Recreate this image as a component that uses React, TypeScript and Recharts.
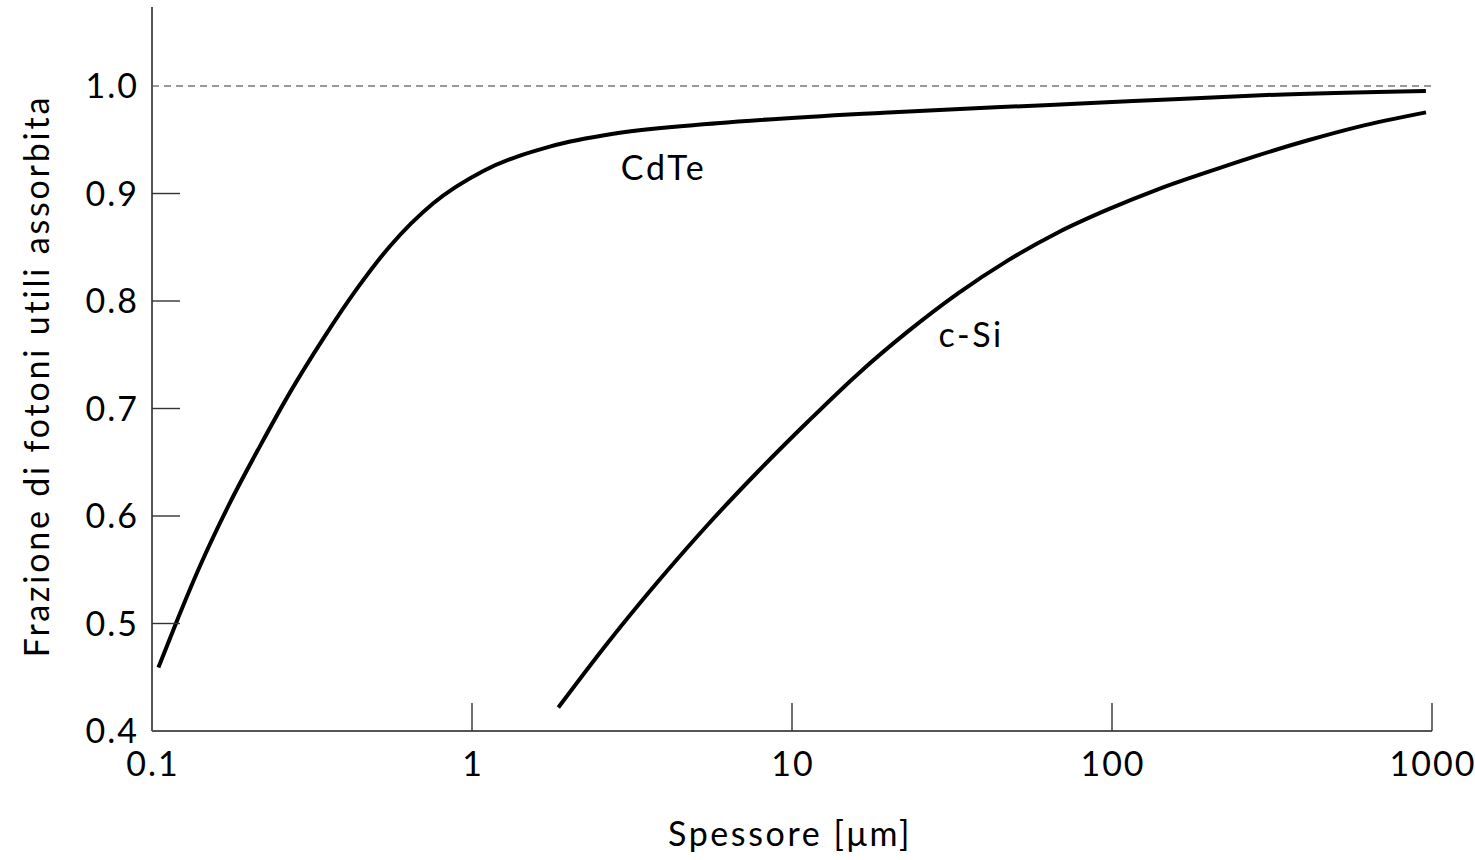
import React from 'react';
import { LineChart, Line, XAxis, YAxis, ReferenceLine, ReferenceDot } from 'recharts';

const cdteX = [0.1047, 0.118, 0.141, 0.175, 0.2175, 0.27, 0.343, 0.436, 0.554, 0.757, 1.085, 1.75, 2.83, 5.82, 19.3, 64, 116.6, 304, 957];
const cdteY = [0.459, 0.498, 0.553, 0.612, 0.665, 0.715, 0.765, 0.811, 0.851, 0.891, 0.921, 0.9436, 0.956, 0.9653, 0.9752, 0.9824, 0.986, 0.9916, 0.9953];

const csiX = [1.861, 2.661, 3.813, 5.464, 7.83, 11.22, 16.08, 23.04, 33.02, 47.32, 67.8, 97.2, 139.2, 199.5, 285.9, 409.8, 587.1, 957.8];
const csiY = [0.4218, 0.4823, 0.539, 0.5921, 0.6414, 0.6879, 0.7322, 0.7717, 0.8071, 0.8378, 0.8638, 0.8852, 0.9039, 0.9201, 0.9355, 0.9495, 0.962, 0.9755];

const xTicks = [0.1, 1, 10, 100, 1000];
const yTicks = [0.4, 0.5, 0.6, 0.7, 0.8, 0.9, 1.0];

const seriesLabels = [
  { text: 'CdTe', x: 3.97, y: 0.9237 },
  { text: 'c-Si', x: 36.3, y: 0.768 },
];

const xTitle = 'Spessore [μm]';
const yTitle = 'Frazione di fotoni utili assorbita';

const cdteData = cdteX.map((x, i) => ({ x, y: cdteY[i] }));
const csiData = csiX.map((x, i) => ({ x, y: csiY[i] }));

const FONT = 'Lato, "Open Sans", sans-serif';
const FS = 34;
const Y_MARGIN = 15;
const X_MARGIN = 21;
const TICK_LEN = 28;

const YTick = (props: any) => {
  const { x, y, payload } = props;
  const axisX = x + Y_MARGIN;
  return (
    <g>
      {payload.value < 0.999 && payload.value > 0.401 && (
        <line x1={axisX} x2={axisX + TICK_LEN} y1={y} y2={y} stroke="#333" strokeWidth={1.4} />
      )}
      <text x={x + 2} y={y} dy="0.36em" textAnchor="end" fontFamily={FONT} fontSize={FS} letterSpacing={2} fill="#000">
        {payload.value.toFixed(1)}
      </text>
    </g>
  );
};

const XTick = (props: any) => {
  const { x, y, payload } = props;
  const axisY = y - X_MARGIN;
  const v = payload.value;
  return (
    <g>
      {v > 0.11 && (
        <line x1={x} x2={x} y1={axisY - TICK_LEN} y2={axisY} stroke="#333" strokeWidth={1.4} />
      )}
      <text x={x + 1} y={y} dy="0.72em" textAnchor="middle" fontFamily={FONT} fontSize={FS} letterSpacing={2} fill="#000">
        {v < 1 ? String(v) : String(Math.round(v))}
      </text>
    </g>
  );
};

const YTitle = (props: any) => {
  const vb = props.viewBox;
  const cx = vb.x - 15;
  const cy = vb.y + vb.height / 2 + 7;
  return (
    <text x={cx} y={cy} transform={`rotate(-90, ${cx}, ${cy})`} textAnchor="middle" dy="0.36em"
      fontFamily={FONT} fontSize={FS} letterSpacing={2.8} fill="#000">{yTitle}</text>
  );
};

const XTitle = (props: any) => {
  const vb = props.viewBox;
  const cx = vb.x + vb.width / 2 - 2;
  const ty = vb.y + 91;
  return (
    <text x={cx} y={ty} dy="0.72em" textAnchor="middle" fontFamily={FONT} fontSize={FS} letterSpacing={2.6} fill="#000">{xTitle}</text>
  );
};

export default function App() {
  return (
    <div style={{ position: 'absolute', left: 0, top: 0, background: '#fff' }}>
      <LineChart width={1475} height={860} margin={{ top: 7, right: 43, bottom: 89, left: 52 }}>
        <XAxis
          dataKey="x"
          type="number"
          scale="log"
          domain={[0.1, 1000]}
          ticks={xTicks}
          allowDataOverflow
          height={40}
          tickSize={0}
          tickMargin={X_MARGIN}
          tickLine={false}
          interval={0}
          axisLine={{ stroke: '#555', strokeWidth: 2 }}
          tick={XTick}
          label={{ content: XTitle }}
        />
        <YAxis
          type="number"
          domain={[0.4, 1.0735]}
          ticks={yTicks}
          allowDataOverflow
          width={100}
          tickSize={0}
          tickMargin={Y_MARGIN}
          tickLine={false}
          interval={0}
          axisLine={{ stroke: '#555', strokeWidth: 2 }}
          tick={YTick}
          label={{ content: YTitle }}
        />
        <ReferenceLine y={1.0} stroke="#777" strokeWidth={1.6} strokeDasharray="7 5" />
        <Line data={cdteData} dataKey="y" type="monotone" stroke="#000" strokeWidth={4} dot={false} isAnimationActive={false} />
        <Line data={csiData} dataKey="y" type="monotone" stroke="#000" strokeWidth={4} dot={false} isAnimationActive={false} />
        {seriesLabels.map((l) => (
          <ReferenceDot key={l.text} x={l.x} y={l.y} r={0} stroke="none" fill="none"
            label={{ value: l.text, position: 'center', fontFamily: FONT, fontSize: FS, letterSpacing: 2.6, fill: '#000' }} />
        ))}
      </LineChart>
    </div>
  );
}
